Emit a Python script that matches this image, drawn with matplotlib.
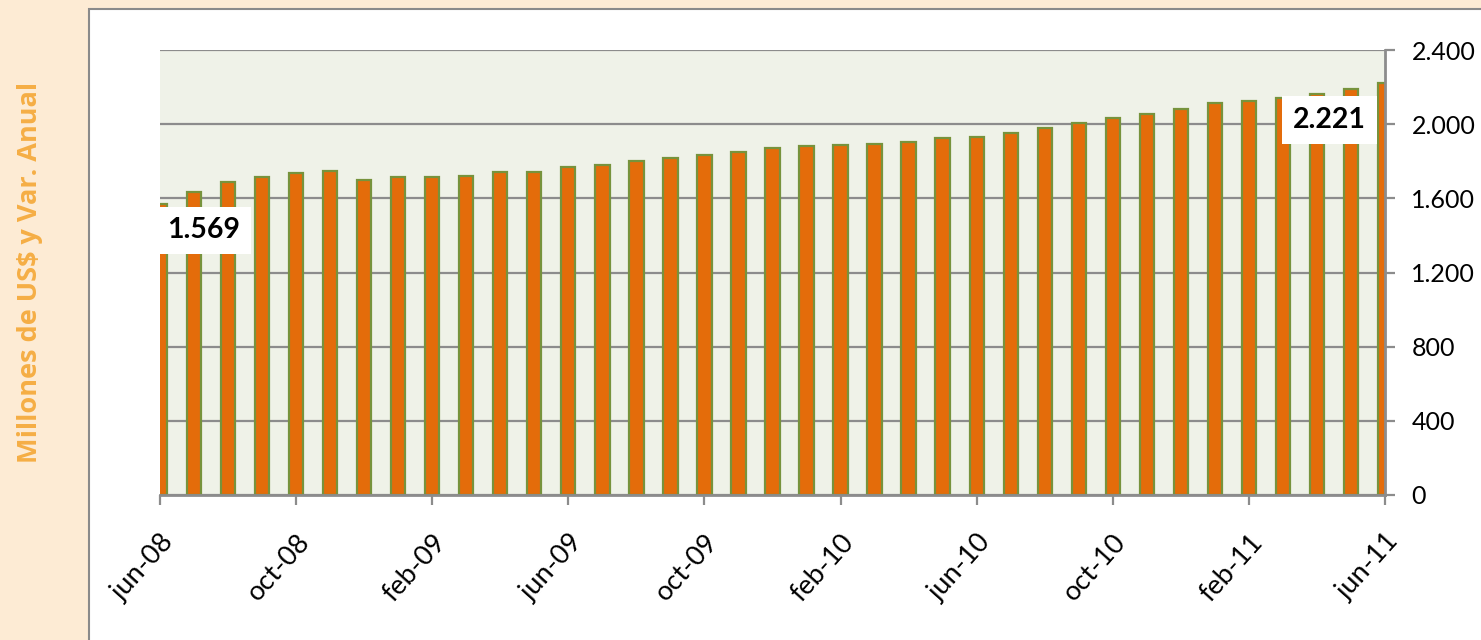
import matplotlib.pyplot as plt
from matplotlib.patches import Rectangle

# --- data: monthly values jun-08 .. jun-11 (millones de US$)
meses = ["ene", "feb", "mar", "abr", "may", "jun", "jul", "ago", "sep", "oct", "nov", "dic"]
periodos = [f"{meses[(5 + i) % 12]}-{(8 + (5 + i) // 12):02d}" for i in range(37)]
valores = [1569, 1633, 1690, 1717, 1738, 1746, 1701, 1715, 1713, 1722,
           1740, 1744, 1769, 1781, 1801, 1819, 1832, 1850, 1870, 1884,
           1888, 1891, 1906, 1925, 1932, 1952, 1979, 2008, 2031, 2057,
           2082, 2114, 2123, 2143, 2165, 2190, 2221]
y_ticks = [0, 400, 800, 1200, 1600, 2000, 2400]

plt.rcParams['font.family'] = ['Lato', 'DejaVu Sans']

fig = plt.figure(figsize=(14.81, 6.4), dpi=100)
fig.patch.set_facecolor("#FDEBD4")

# white panel behind the chart
panel = Rectangle((89 / 1481, -0.05), 1.0, 1.05 - 9 / 640, transform=fig.transFigure,
                  facecolor="white", edgecolor="#8a8a8a", lw=1.5, zorder=-1)
fig.patches.append(panel)

ax = fig.add_axes([160 / 1481, 1 - 495 / 640, (1385 - 160) / 1481, (495 - 50) / 640])
ax.set_zorder(1)
ax.set_facecolor("#EFF2E8")

x = list(range(len(valores)))
ax.bar(x, valores, width=0.42, color="#E46C0A", edgecolor="#77933C", lw=1.6, zorder=3)

ax.set_xlim(0, len(valores) - 1)
ax.set_ylim(0, 2400)

# right y axis
ax.yaxis.tick_right()
ax.set_yticks(y_ticks)
ax.set_yticklabels([f"{v:,}".replace(",", ".") for v in y_ticks], fontsize=18)
ax.grid(axis="y", color="#8c8c8c", lw=1.6, zorder=1)

ax.set_xticks(x[::4])
ax.set_xticklabels(periodos[::4], rotation=48, ha="right", rotation_mode="anchor", fontsize=19.5)

ax.tick_params(axis="both", direction="out", length=7, width=1.6, color="#8c8c8c")
ax.tick_params(axis="y", pad=12)
ax.tick_params(axis="x", pad=18)

for s in ["left", "top"]:
    ax.spines[s].set_visible(False)
for s in ["right", "bottom"]:
    ax.spines[s].set_color("#8c8c8c")
    ax.spines[s].set_linewidth(2)
    ax.spines[s].set_zorder(4)

# value labels for first and last bars
box = dict(boxstyle="square,pad=0.38", facecolor="white", edgecolor="none")
ax.annotate("1.569", xy=(0, valores[0]), xytext=(31.5, -19), textcoords="offset points",
            ha="center", va="center", fontsize=20.5, fontweight="bold", bbox=box, zorder=5,
            annotation_clip=False)
ax.annotate("2.221", xy=(36, valores[-1]), xytext=(-40, -26.5), textcoords="offset points",
            ha="center", va="center", fontsize=20.5, fontweight="bold", bbox=box, zorder=5,
            annotation_clip=False)

fig.text(30 / 1481, 1 - 272 / 640, "Millones de US$ y Var. Anual", rotation=90,
         ha="center", va="center", fontsize=19.5, fontweight="bold", color="#F5AE45",
         family=["Open Sans", "DejaVu Sans"])

fig.savefig("out.png", dpi=100, facecolor=fig.get_facecolor())
